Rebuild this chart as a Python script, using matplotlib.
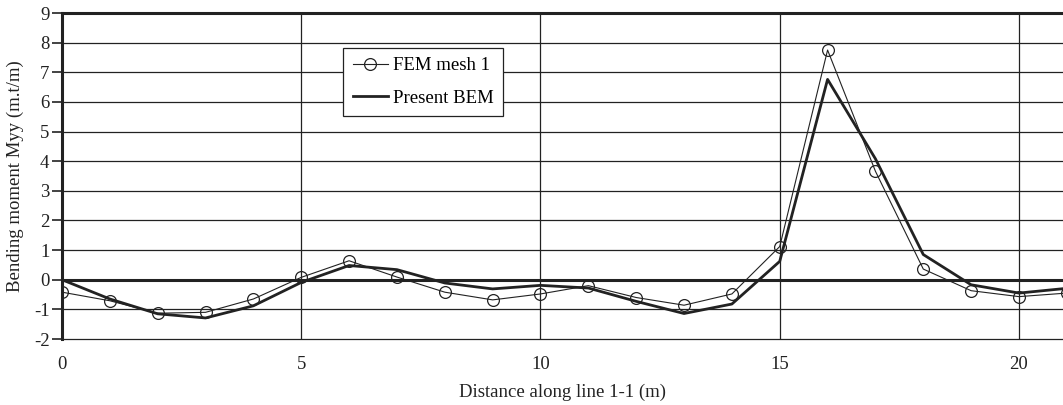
import matplotlib.pyplot as plt
import numpy as np

# distance along line 1-1 (m)
x = np.arange(0, 22)

# bending moment Myy (m.t/m)
fem_mesh1 = [-0.42, -0.71, -1.13, -1.10, -0.65, 0.08, 0.64, 0.09, -0.42, -0.68, -0.48,
             -0.20, -0.60, -0.86, -0.48, 1.12, 7.75, 3.66, 0.36, -0.37, -0.57, -0.45]
present_bem = [0.0, -0.65, -1.15, -1.29, -0.88, -0.09, 0.48, 0.34, -0.11, -0.31, -0.19,
               -0.28, -0.73, -1.14, -0.82, 0.62, 6.76, 4.08, 0.85, -0.17, -0.45, -0.29]

y_ticks = list(range(-2, 10))
x_ticks = [0, 5, 10, 15, 20]

plt.rcParams['font.family'] = ['Liberation Serif', 'DejaVu Serif']
plt.rcParams['axes.unicode_minus'] = False
ink = '#222222'

fig = plt.figure(figsize=(10.63, 4.05), dpi=100)
ax = fig.add_axes([62 / 1063, 66 / 405, 1001 / 1063, 326 / 405])

# grid lines
for yv in y_ticks:
    ax.axhline(yv, color=ink, lw=0.9, zorder=1, clip_on=False)
for xv in x_ticks[1:]:
    ax.axvline(xv, color=ink, lw=0.9, zorder=1)
ax.axhline(0, color=ink, lw=2.2, zorder=2)

ax.plot(x, fem_mesh1, color=ink, lw=0.8, marker='o', markersize=8.5,
        markerfacecolor='none', markeredgecolor=ink, markeredgewidth=0.9,
        label='FEM mesh 1', zorder=3)
ax.plot(x, present_bem, color=ink, lw=2.0, label='Present BEM', zorder=4)

ax.set_xlim(0, 20.92)
ax.set_ylim(-2, 9)
ax.set_xticks(x_ticks)
ax.set_yticks(y_ticks)
ax.tick_params(axis='both', labelsize=13.5, colors=ink)
ax.tick_params(axis='x', length=0, pad=12)
ax.tick_params(axis='y', length=7, width=1.2, pad=2)

for side in ['right', 'bottom']:
    ax.spines[side].set_visible(False)
for side in ['left', 'top']:
    ax.spines[side].set_linewidth(2.2)
    ax.spines[side].set_color(ink)

ax.set_xlabel('Distance along line 1-1 (m)', fontsize=13.5, color=ink, labelpad=8)
ax.set_ylabel('Bending moment Myy (m.t/m)', fontsize=13.5, color=ink, labelpad=7)

leg = ax.legend(loc='upper left', bbox_to_anchor=(0.281, 0.893), fontsize=13.5,
                frameon=True, fancybox=False, handlelength=1.9, handletextpad=0.25,
                borderpad=0.5, labelspacing=0.8, borderaxespad=0)
leg.get_frame().set_edgecolor(ink)
leg.get_frame().set_linewidth(0.9)
leg.get_frame().set_alpha(1)

fig.savefig('out.png', dpi=100)
